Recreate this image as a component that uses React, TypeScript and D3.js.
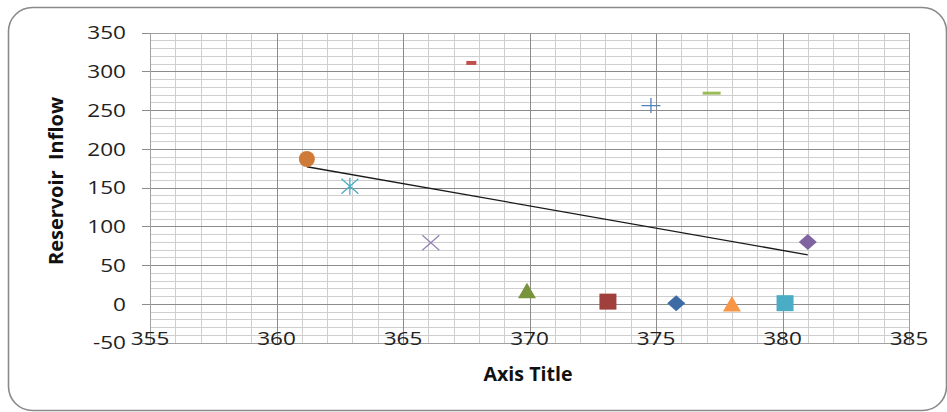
import React from "react";
import * as d3 from "d3";

const xValues = [361.2, 362.9, 366.1, 367.7, 369.9, 373.1, 374.8, 375.8, 377.2, 378.0, 380.1, 381.0];
const yValues = [187, 152, 79, 311, 17, 3, 256, 1, 272, 0, 1, 80];
const markerShapes = ["circle", "asterisk", "x", "dash", "triangle", "square", "plus", "diamond", "longdash", "triangle", "square", "diamond"];
const markerColors = ["#CF7A37", "#4BACC6", "#9483B6", "#C0504D", "#77933C", "#A0403C", "#4F81BD", "#3D6BA5", "#9BBB59", "#F79646", "#4BACC6", "#8064A2"];
const xTicks = [355, 360, 365, 370, 375, 380, 385];
const yTicks = [-50, 0, 50, 100, 150, 200, 250, 300, 350];
const xDomain = [355, 385];
const yDomain = [-50, 350];
const xTitle = "Axis Title";
const yTitle = "Reservoir  Inflow";

const W = 947;
const H = 412;
const left = 150, right = 909, top = 32.7, bottom = 342.7;
const FONT = "'Open Sans', 'Noto Sans', sans-serif";

function Marker({ shape, color, cx, cy }: { shape: string; color: string; cx: number; cy: number }) {
  const t = `translate(${cx},${cy})`;
  switch (shape) {
    case "circle":
      return <circle cx={cx} cy={cy} r={8} fill={color} />;
    case "square":
      return <rect transform={t} x={-8.5} y={-8} width={17} height={16} fill={color} />;
    case "diamond":
      return <path transform={t} d="M0,-8 L9,0 L0,8 L-9,0Z" fill={color} />;
    case "triangle":
      return <path transform={t} d="M0,-8 L9,7.5 L-9,7.5Z" fill={color} />;
    case "x":
      return <path transform={t} d="M-8.5,-7.5 L8.5,7.5 M-8.5,7.5 L8.5,-7.5" stroke={color} strokeWidth={1.3} fill="none" />;
    case "asterisk":
      return <path transform={t} d="M-8.5,-7.5 L8.5,7.5 M-8.5,7.5 L8.5,-7.5 M0,-8.5 L0,8.5" stroke={color} strokeWidth={1.3} fill="none" />;
    case "plus":
      return <path transform={t} d="M-9.5,0 L9.5,0 M0,-7.5 L0,7.5" stroke={color} strokeWidth={1.3} fill="none" />;
    case "dash":
      return <rect transform={t} x={-5} y={-2} width={10} height={4} fill={color} />;
    case "longdash":
      return <rect transform={t} x={-9} y={-1.5} width={18} height={3} fill={color} />;
    default:
      return null;
  }
}

export default function App() {
  const x = d3.scaleLinear().domain(xDomain).range([left, right]);
  const y = d3.scaleLinear().domain(yDomain).range([bottom, top]);

  const minorX = d3.range(xDomain[0], xDomain[1] + 0.001, 1);
  const minorY = d3.range(yDomain[0], yDomain[1] + 0.001, 10);

  // least squares linear trendline
  const n = xValues.length;
  const mx = d3.mean(xValues) as number;
  const my = d3.mean(yValues) as number;
  let sxy = 0, sxx = 0;
  for (let i = 0; i < n; i++) {
    sxy += (xValues[i] - mx) * (yValues[i] - my);
    sxx += (xValues[i] - mx) ** 2;
  }
  const slope = sxy / sxx;
  const icpt = my - slope * mx;
  const x0 = d3.min(xValues) as number;
  const x1 = d3.max(xValues) as number;
  const trend = d3.line<number>().x((d) => x(d)).y((d) => y(icpt + slope * d))([x0, x1]);

  return (
    <svg width={W} height={H} style={{ position: "fixed", left: 0, top: 0, background: "#fff" }}>
      <rect x={0} y={0} width={W} height={H} fill="#fff" />
      <rect x={8.5} y={7.5} width={938} height={403} rx={24} ry={24} fill="#fff" stroke="#8a8a8a" strokeWidth={1.6} />
      {/* minor grid */}
      <g stroke="#cfcfcf" strokeWidth={1} shapeRendering="crispEdges">
        {minorX.map((v) => (
          <line key={"mx" + v} x1={Math.round(x(v)) + 0.5} x2={Math.round(x(v)) + 0.5} y1={top} y2={bottom} />
        ))}
        {minorY.map((v) => (
          <line key={"my" + v} x1={left} x2={right} y1={Math.round(y(v)) + 0.5} y2={Math.round(y(v)) + 0.5} />
        ))}
      </g>
      {/* major grid */}
      <g stroke="#8c8c8c" strokeWidth={1} shapeRendering="crispEdges">
        {xTicks.map((v) => (
          <line key={"Mx" + v} x1={Math.round(x(v)) + 0.5} x2={Math.round(x(v)) + 0.5} y1={top} y2={bottom} />
        ))}
        {yTicks.map((v) => (
          <line key={"My" + v} x1={left - 8} x2={right} y1={Math.round(y(v)) + 0.5} y2={Math.round(y(v)) + 0.5} />
        ))}
      </g>
      <rect x={left + 0.5} y={Math.round(top) + 0.5} width={right - left} height={Math.round(bottom) - Math.round(top)} fill="none" stroke="#a0a0a0" shapeRendering="crispEdges" />
      {/* trendline */}
      <path d={trend || ""} stroke="#1a1a1a" strokeWidth={1.3} fill="none" />
      {/* markers */}
      {xValues.map((v, i) => (
        <Marker key={i} shape={markerShapes[i]} color={markerColors[i]} cx={x(v)} cy={y(yValues[i])} />
      ))}
      {/* y tick labels */}
      <g fontFamily={FONT} fontSize={18.5} fill="#222">
        {yTicks.map((v) => (
          <text key={"yl" + v} textAnchor="end" transform={`translate(126,${y(v) + 6.7}) scale(1.22,1)`}>
            {v}
          </text>
        ))}
        {xTicks.map((v) => (
          <text key={"xl" + v} textAnchor="middle" transform={`translate(${x(v)},${345}) scale(1.22,1)`}>
            {v}
          </text>
        ))}
      </g>
      <text x={(left + right) / 2 - 1.5} y={380.7} textAnchor="middle" fontFamily={FONT} fontWeight="bold" fontSize={19.5} fill="#111" textLength={89} lengthAdjust="spacingAndGlyphs">
        {xTitle}
      </text>
      <text transform={`translate(63,181) rotate(-90)`} textAnchor="middle" fontFamily={FONT} fontWeight="bold" fontSize={19.5} fill="#111" textLength={168} lengthAdjust="spacingAndGlyphs" style={{ whiteSpace: "pre" }}>
        {yTitle}
      </text>
    </svg>
  );
}
